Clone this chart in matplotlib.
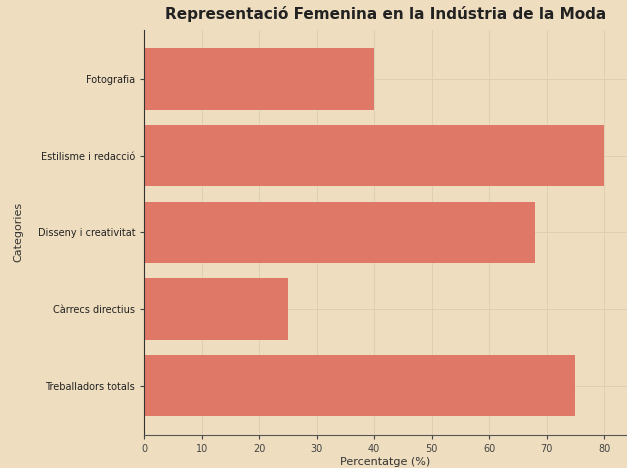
import matplotlib.pyplot as plt

categories = ['Treballadors totals', 'Càrrecs directius', 'Disseny i creativitat',
              'Estilisme i redacció', 'Fotografia']
percentages = [75, 25, 68, 80, 40]

bg = '#EEDDBF'
bar_color = '#E07868'

fig = plt.figure(figsize=(6.27, 4.68), dpi=100, facecolor=bg)
ax = fig.add_axes([0.23, 0.071, 0.77, 0.865], facecolor=bg)

ax.barh(categories, percentages, color=bar_color, height=0.8, zorder=2)

ax.set_xlim(0, 84)
ax.set_xticks(range(0, 90, 10))
ax.grid(True, color='#DFCFB2', linewidth=0.7, zorder=0)
for side in ['top', 'right']:
    ax.spines[side].set_visible(False)
ax.spines['left'].set_color('#333333')
ax.spines['bottom'].set_color('#555555')
ax.tick_params(labelsize=7, colors='#444444', length=3)
ax.tick_params(axis='y', labelcolor='#222222')

ax.set_title('Representació Femenina en la Indústria de la Moda',
             fontsize=11, fontweight='bold', color='#222222', pad=8)
ax.set_xlabel('Percentatge (%)', fontsize=8, color='#333333', labelpad=2)
ax.set_ylabel('Categories', fontsize=8, color='#333333', labelpad=10)

fig.savefig('out.png', dpi=100, facecolor=bg)
